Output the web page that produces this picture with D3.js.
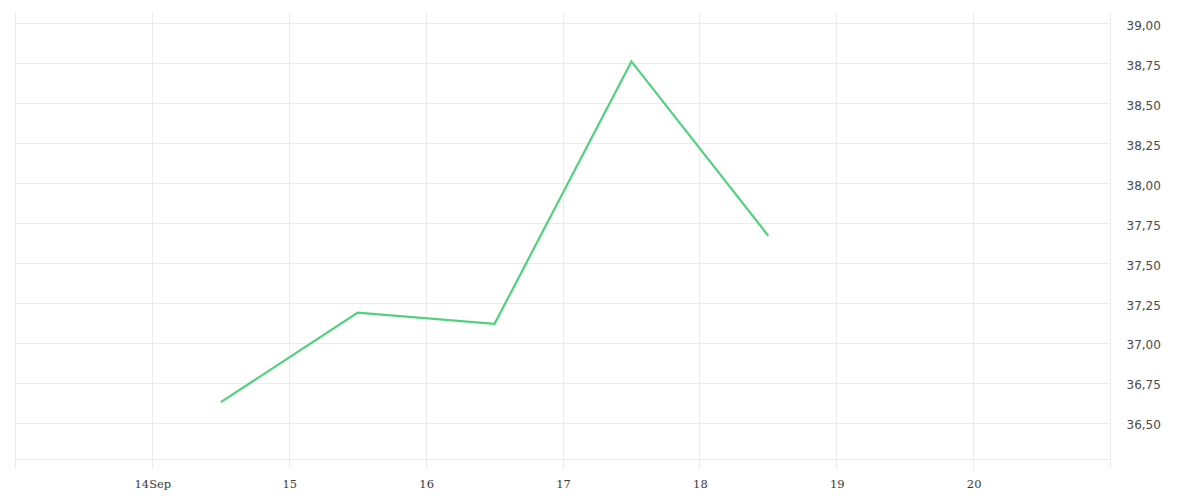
<!DOCTYPE html>
<html>
<head>
    <meta charset="utf-8">
    <style>
        body {
            margin: 0;
            background: #fff;
        }
        .grid line {
            stroke: #ebebeb;
            stroke-width: 1px;
            shape-rendering: crispEdges;
        }
        .x.axis text {
            font-family: "DejaVu Serif", serif;
            font-size: 11.5px;
            fill: #3a3a3a;
        }
        .y.axis text {
            font-family: "DejaVu Sans", sans-serif;
            font-size: 12px;
            fill: #4a4a4a;
        }
        .axis .domain, .axis line {
            display: none;
        }
    </style>
</head>
<body>
    <div id="chart"></div>
    <script src="https://d3js.org/d3.v7.min.js"></script>
    <script>
        // values
        var dates = ["2021-09-14T12:00", "2021-09-15T12:00", "2021-09-16T12:00", "2021-09-17T12:00", "2021-09-18T12:00"];
        var values = [36.63, 37.19, 37.12, 38.76, 37.67];
        var yTicks = [36.5, 36.75, 37, 37.25, 37.5, 37.75, 38, 38.25, 38.5, 38.75, 39];
        var xDomain = ["2021-09-13T00:00", "2021-09-21T00:00"];
        var yDomain = [36.278, 39.069];

        var parse = d3.timeParse("%Y-%m-%dT%H:%M");
        var data = dates.map(function (d, i) {
            return {date: parse(d), value: values[i]};
        });

        var width = 1200, height = 500;
        var plot = {left: 15.5, right: 1110.5, top: 12, bottom: 458.5};

        var svg = d3.select("#chart").append("svg")
            .attr("width", width)
            .attr("height", height);

        var x = d3.scaleTime()
            .domain(xDomain.map(parse))
            .range([plot.left, plot.right]);

        var y = d3.scaleLinear()
            .domain(yDomain)
            .range([plot.bottom, plot.top]);

        var locale = d3.formatLocale({decimal: ",", thousands: ".", grouping: [3], currency: ["", ""]});
        var yFmt = locale.format(".2f");

        var xTicks = d3.timeDay.range(parse("2021-09-14T00:00"), parse("2021-09-21T00:00"));
        var xFmt = function (d, i) {
            return i == 0 ? d3.timeFormat("%-d%b")(d) : d3.timeFormat("%-d")(d);
        };

        // grid
        var grid = svg.append("g").attr("class", "grid");

        grid.selectAll("line.h")
            .data(yTicks.concat([yDomain[0]]))
            .enter().append("line")
            .attr("class", "h")
            .attr("x1", plot.left)
            .attr("x2", plot.right)
            .attr("y1", function (d) { return Math.round(y(d)) + 0.5; })
            .attr("y2", function (d) { return Math.round(y(d)) + 0.5; });

        grid.selectAll("line.v")
            .data([x.domain()[0]].concat(xTicks).concat([x.domain()[1]]))
            .enter().append("line")
            .attr("class", "v")
            .attr("x1", function (d) { return Math.floor(x(d)) + 0.5; })
            .attr("x2", function (d) { return Math.floor(x(d)) + 0.5; })
            .attr("y1", plot.top)
            .attr("y2", plot.bottom + 10);

        // axes
        svg.append("g")
            .attr("class", "x axis")
            .attr("transform", "translate(0," + (plot.bottom + 10) + ")")
            .call(d3.axisBottom(x).tickValues(xTicks).tickFormat(xFmt).tickSize(0).tickPadding(11));

        svg.append("g")
            .attr("class", "y axis")
            .attr("transform", "translate(" + (plot.right + 16) + ",0)")
            .call(d3.axisRight(y).tickValues(yTicks).tickFormat(yFmt).tickSize(0).tickPadding(0))
            .selectAll("text")
            .attr("dy", "0.5em");

        // line
        var line = d3.line()
            .x(function (d) { return x(d.date); })
            .y(function (d) { return y(d.value); });

        svg.append("path")
            .datum(data)
            .attr("d", line)
            .attr("fill", "none")
            .attr("stroke", "#4fd27b")
            .attr("stroke-width", 2.2)
            .attr("stroke-linejoin", "miter");
    </script>
</body>
</html>
